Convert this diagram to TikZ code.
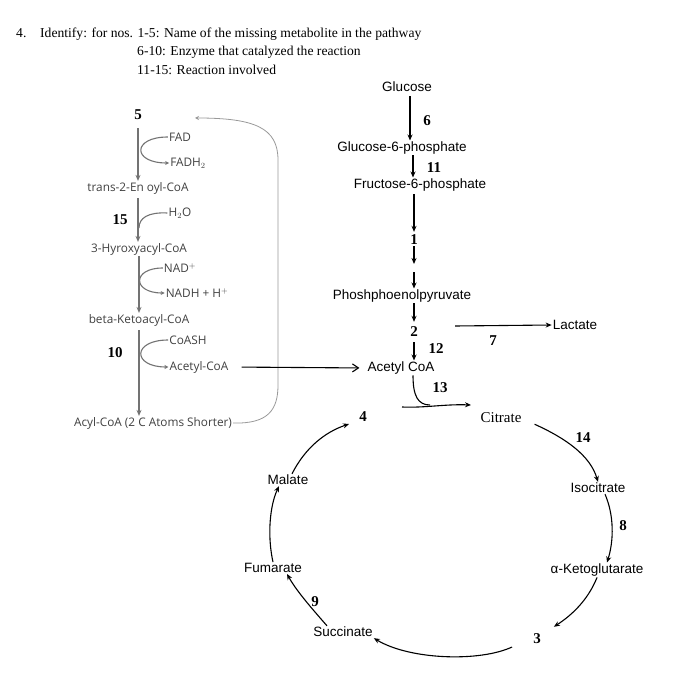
\documentclass[tikz,border=0pt]{standalone}
\usepackage{fontspec}
\setmainfont{Liberation Serif}
\setsansfont{Liberation Sans}
\newfontfamily\oxfont{Open Sans}
\usetikzlibrary{arrows.meta}

\tikzset{
  met/.style={font=\sffamily\fontsize{13.5}{15}\selectfont, inner sep=1pt},
  ox/.style={font=\oxfont\fontsize{11.8}{13}\selectfont, text=black!75, inner sep=1pt},
  num/.style={font=\bfseries\fontsize{15}{17}\selectfont, inner sep=1pt},
  hd/.style={font=\fontsize{13.6}{15}\selectfont, anchor=base west, inner sep=0pt},
  gline/.style={draw=black!55, line width=1.1pt},
  loopline/.style={draw=black!40, line width=0.8pt},
  bline/.style={draw=black, line width=1.1pt},
  small/.style={-{Stealth[length=4pt,width=4pt]}}
}

\begin{document}
\begin{tikzpicture}[x=1pt, y=-1pt, >={Stealth[length=6pt,width=5pt]}]
  \useasboundingbox (0,0) rectangle (673,700);
  \node[hd] (q4) at (16,38) {4.};
  \node[hd] (qa) at (40,38) {Identify: for nos. 1-5: Name of the missing metabolite in the pathway};
  \node[hd] (qb) at (137,56) {6-10: Enzyme that catalyzed the reaction};
  \node[hd] (qc) at (137,75) {11-15: Reaction involved};

  \node[met] (glc) at (407,87) {Glucose};
  \node[met] (g6p) at (402,148) {Glucose-6-phosphate};
  \node[met] (f6p) at (420,185) {Fructose-6-phosphate};
  \node[num] (n6) at (427,121) {6};
  \node[num] (n11) at (434,168) {11};
  \node[num] (n1) at (414,240) {1};
  \node[met] (pep) at (402,296) {Phoshphoenolpyruvate};
  \node[num] (n2) at (414,332) {2};
  \node[num] (n12) at (436,349) {12};
  \node[met] (acoa) at (401,368) {Acetyl CoA};
  \node[num] (n7) at (493,341) {7};
  \node[met] (lac) at (575,325) {Lactate};
  \node[num] (n13) at (440,388) {13};
  \coordinate (k0) at (414,264);
  \coordinate (k1) at (414,272);
  \coordinate (p7) at (455,326);
  \coordinate (t13) at (402,407);
  \coordinate (e13) at (471,405);

  \node[met, font=\fontsize{15}{16}\selectfont] (cit) at (501,418) {Citrate};
  \node[met] (iso) at (598,488) {Isocitrate};
  \node[met] (akg) at (597,570) {α-Ketoglutarate};
  \node[met] (suc) at (343,632) {Succinate};
  \node[met] (fum) at (273,568) {Fumarate};
  \node[met] (mal) at (288,480) {Malate};
  \node[num] (n3) at (537,639) {3};
  \node[num] (n4) at (363,417) {4};
  \node[num] (n8) at (623,526) {8};
  \node[num] (n9) at (315,602) {9};
  \node[num] (n14) at (583,438) {14};

  \node[num] (n5) at (138,115) {5};
  \node[ox] (fad) at (180,137) {FAD};
  \node[ox] (fadh) at (188,163) {FADH$_2$};
  \node[ox] (ena) at (138,188) {trans-2-En oyl-CoA};
  \node[num] (n15) at (120,220) {15};
  \node[ox] (wat) at (180,213) {H$_2$O};
  \node[ox] (hyd) at (139,249) {3-Hyroxyacyl-CoA};
  \node[ox] (nad) at (180,268) {NAD$^+$};
  \node[ox] (nadh) at (197,293) {NADH + H$^+$};
  \node[ox] (keto) at (139,320) {beta-Ketoacyl-CoA};
  \node[ox] (coash) at (188,340) {CoASH};
  \node[num] (n10) at (115,353) {10};
  \node[ox] (acl) at (199,367) {Acetyl-CoA};
  \node[ox] (acyl) at (153,423) {Acyl-CoA (2 C Atoms Shorter)};
  \coordinate (w15) at (139,228);
  \coordinate (r5) at (195,118);

  \draw[loopline, small] (acyl.east) .. controls (268,424) and (278,410) .. (278,385) -- (278,160) .. controls (278,128) and (255,118) .. (r5);
  \draw[gline,->, shorten <=7pt] (n5) -- (ena.north -| n5);
  \draw[gline,->, shorten <=3pt] (ena) -- (hyd.north -| ena);
  \draw[gline,->] (hyd.south) -- (keto.north);
  \draw[gline,->, shorten <=3pt] (keto.south) -- (acyl.north -| keto);
  \draw[gline, small] (fad.west) .. controls (132,137) and (132,163) .. (fadh.west);
  \draw[gline] (wat.west) .. controls (148,212) and (139,218) .. (w15);
  \draw[gline, small] (nad.west) .. controls (132,268) and (132,293) .. (nadh.west);
  \draw[gline, small] (coash.west) .. controls (132,340) and (132,367) .. (acl.west);

  \draw[bline,->, shorten <=3pt] ([xshift=3pt]glc.south) -- ([xshift=8pt]g6p.north);
  \draw[bline,->] ([xshift=11pt]g6p.south) -- ([xshift=-7pt]f6p.north);
  \draw[bline,->, shorten <=2pt, shorten >=2pt] ([xshift=-6pt]f6p.south) -- (n1);
  \draw[bline,->] (n1) -- (k0);
  \draw[bline,->] (k1) -- (pep.north -| k1);
  \draw[bline,->, shorten >=4pt] (pep.south -| n2) -- (n2);
  \draw[bline,->, shorten <=4pt] (n2) -- (acoa.north -| n2);
  \draw[bline,->] (p7) -- (lac.west);
  \draw[bline,-{Straight Barb[length=6pt,width=8pt]}, shorten <=12pt, shorten >=7pt] (acl.east) -- (acoa.west);
  \draw[bline] ([xshift=12pt]acoa.south) .. controls (413,396) and (418,405) .. (430,405);
  \draw[bline,->] (t13) .. controls (425,408) and (445,404) .. (e13);

  \draw[bline,->] ([xshift=12pt]cit.south east) .. controls (565,438) and (590,455) .. (iso.north);
  \draw[bline,->] ([xshift=7pt]iso.south) .. controls (614,515) and (614,540) .. ([xshift=10pt]akg.north);
  \draw[bline,->] (akg.south) .. controls (588,600) and (572,615) .. ([shift={(12pt,6pt)}]n3.north east);
  \draw[bline,->] ([shift={(-20pt,-8pt)}]n3.west) .. controls (480,662) and (410,660) .. (suc.south east);
  \draw[bline,->] ([xshift=-16pt]suc.north) .. controls (315,612) and (297,592) .. ([xshift=14pt]fum.south);
  \draw[bline,->] (fum.north) .. controls (267,535) and (270,505) .. ([xshift=-9pt]mal.south);
  \draw[bline,->] ([xshift=4pt]mal.north) .. controls (305,448) and (325,432) .. ([shift={(-9pt,-7pt)}]n4.west);
\end{tikzpicture}
\end{document}
